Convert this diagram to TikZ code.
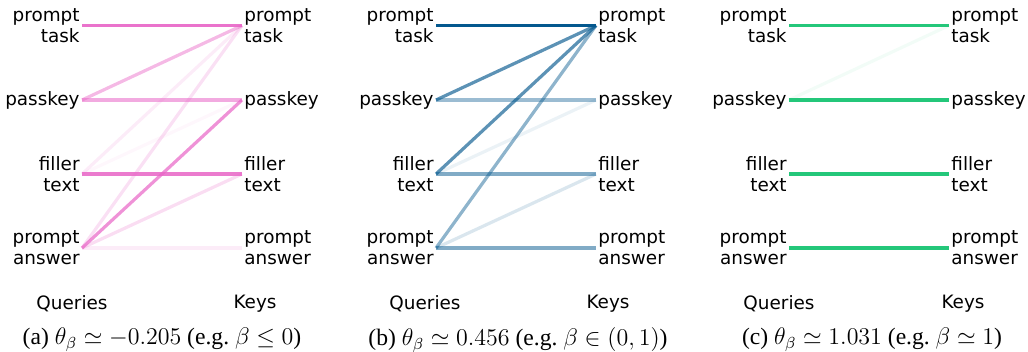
\documentclass[tikz,border=0pt]{standalone}
\usepackage{amsmath, amssymb}
\usepackage{fontspec}
\setmainfont{Liberation Serif}
\newfontfamily\plotfont{DejaVu Sans}
\usepackage{tikz}
\usetikzlibrary{positioning}

\definecolor{attnpink}{RGB}{232,100,198}
\definecolor{attnblue}{RGB}{4,88,142}
\definecolor{attngreen}{RGB}{36,199,122}

\begin{document}
\begin{tikzpicture}[
        x=0.5pt, y=-0.5pt,
        node distance=80pt,
        query/.style={anchor=east, align=right, inner sep=1pt, font=\plotfont\fontsize{9.2}{10.6}\selectfont},
        key/.style={align=left, inner sep=1pt, font=\plotfont\fontsize{9.2}{10.6}\selectfont},
        axislabel/.style={inner sep=0pt, font=\plotfont\fontsize{9.2}{10.6}\selectfont},
        caption/.style={inner sep=0pt, font=\fontsize{11.8}{13}\selectfont},
        link/.style={line width=1.6pt}
    ]
    \useasboundingbox (0,0) rectangle (1028,352);

    % (a) beta <= 0
    \node[query] (qa1) at (82,25.5) {prompt\\task};
    \node[query] (qa2) at (82,100) {passkey};
    \node[query] (qa3) at (82,174) {filler\\text};
    \node[query] (qa4) at (82,248) {prompt\\answer};
    \node[key, right=of qa1] (ka1) {prompt\\task};
    \node[key, right=of qa2] (ka2) {passkey};
    \node[key, right=of qa3] (ka3) {filler\\text};
    \node[key, right=of qa4] (ka4) {prompt\\answer};
    \node[axislabel] (queriesa) at (72,304) {Queries};
    \node[axislabel] (keysa) at (255,304) {Keys};
    \node[caption] (capa) at (162,340) {(a) $\theta_\beta \simeq -0.205$ (e.g.\ $\beta \leq 0$)};

    \draw[link, attnpink, draw opacity=0.05] (qa3.east) -- (ka2.west);
    \draw[link, attnpink, draw opacity=0.12] (qa3.east) -- (ka1.west);
    \draw[link, attnpink, draw opacity=0.2] (qa4.east) -- (ka1.west);
    \draw[link, attnpink, draw opacity=0.22] (qa4.east) -- (ka3.west);
    \draw[link, attnpink, draw opacity=0.12] (qa4.east) -- (ka4.west);
    \draw[link, attnpink, draw opacity=0.45] (qa2.east) -- (ka1.west);
    \draw[link, attnpink, draw opacity=0.55] (qa2.east) -- (ka2.west);
    \draw[link, attnpink, draw opacity=0.7] (qa4.east) -- (ka2.west);
    \draw[link, attnpink, draw opacity=0.85] (qa3.east) -- (ka3.west);
    \draw[link, attnpink, draw opacity=0.9] (qa1.east) -- (ka1.west);

    % (b) 0 < beta < 1
    \node[query] (qb1) at (436,25.5) {prompt\\task};
    \node[query] (qb2) at (436,100) {passkey};
    \node[query] (qb3) at (436,174) {filler\\text};
    \node[query] (qb4) at (436,248) {prompt\\answer};
    \node[key, right=of qb1] (kb1) {prompt\\task};
    \node[key, right=of qb2] (kb2) {passkey};
    \node[key, right=of qb3] (kb3) {filler\\text};
    \node[key, right=of qb4] (kb4) {prompt\\answer};
    \node[axislabel] (queriesb) at (425,304) {Queries};
    \node[axislabel] (keysb) at (608,304) {Keys};
    \node[caption] (capb) at (518,340) {(b) $\theta_\beta \simeq 0.456$ (e.g.\ $\beta \in (0,1)$)};

    \draw[link, attnblue, draw opacity=0.08] (qb3.east) -- (kb2.west);
    \draw[link, attnblue, draw opacity=0.15] (qb4.east) -- (kb3.west);
    \draw[link, attnblue, draw opacity=0.4] (qb2.east) -- (kb2.west);
    \draw[link, attnblue, draw opacity=0.45] (qb4.east) -- (kb1.west);
    \draw[link, attnblue, draw opacity=0.5] (qb3.east) -- (kb3.west);
    \draw[link, attnblue, draw opacity=0.5] (qb4.east) -- (kb4.west);
    \draw[link, attnblue, draw opacity=0.65] (qb2.east) -- (kb1.west);
    \draw[link, attnblue, draw opacity=0.65] (qb3.east) -- (kb1.west);
    \draw[link, attnblue] (qb1.east) -- (kb1.west);

    % (c) beta ~ 1
    \node[query] (qc1) at (789,25.5) {prompt\\task};
    \node[query] (qc2) at (789,100) {passkey};
    \node[query] (qc3) at (789,174) {filler\\text};
    \node[query] (qc4) at (789,248) {prompt\\answer};
    \node[key, right=of qc1] (kc1) {prompt\\task};
    \node[key, right=of qc2] (kc2) {passkey};
    \node[key, right=of qc3] (kc3) {filler\\text};
    \node[key, right=of qc4] (kc4) {prompt\\answer};
    \node[axislabel] (queriesc) at (779,304) {Queries};
    \node[axislabel] (keysc) at (963,304) {Keys};
    \node[caption] (capc) at (872,340) {(c) $\theta_\beta \simeq 1.031$ (e.g.\ $\beta \simeq 1$)};

    \draw[link, attngreen, draw opacity=0.06] (qc2.east) -- (kc1.west);
    \draw[link, attngreen] (qc1.east) -- (kc1.west);
    \draw[link, attngreen] (qc2.east) -- (kc2.west);
    \draw[link, attngreen] (qc3.east) -- (kc3.west);
    \draw[link, attngreen] (qc4.east) -- (kc4.west);

\end{tikzpicture}
\end{document}
